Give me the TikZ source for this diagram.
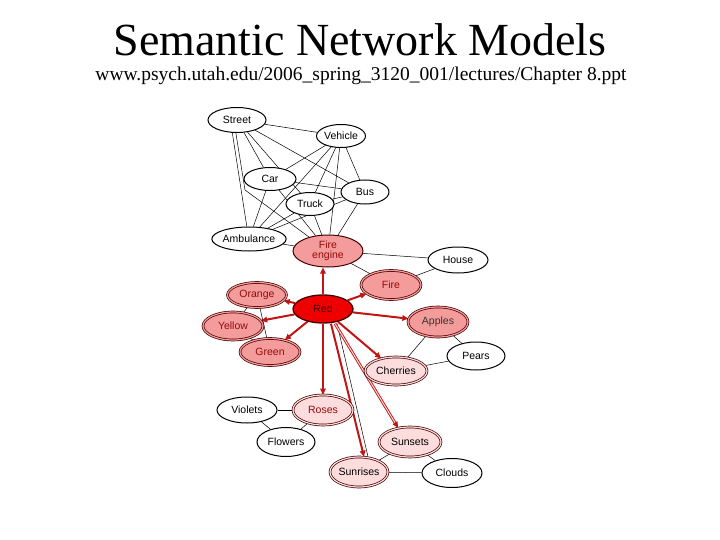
\documentclass[tikz,border=0pt]{standalone}
\usepackage{fontspec}
\setmainfont{Liberation Serif}
\setsansfont{Liberation Sans}
\usetikzlibrary{shapes.geometric,arrows.meta,backgrounds}
\definecolor{salmon}{RGB}{244,156,156}
\definecolor{pinkl}{RGB}{252,220,220}
\definecolor{redn}{RGB}{238,0,0}
\definecolor{arr}{RGB}{195,20,20}
\definecolor{edge}{RGB}{70,0,0}
\definecolor{txtr}{RGB}{150,10,10}
\tikzset{
  nd/.style={ellipse, draw=black, line width=1pt, fill=white, inner sep=0pt,
     font=\sffamily\fontsize{10.5}{10.5}\selectfont, align=center},
  wh/.style 2 args={minimum width=#1pt, minimum height=#2pt},
  sal/.style={nd, fill=salmon, draw=edge, text=txtr},
  pk/.style={nd, fill=pinkl, draw=edge},
  ring/.style={double=#1, double distance=1.2pt, line width=0.7pt},
  conn/.style={draw=black, line width=0.5pt},
  arrw/.style={draw=arr, line width=2pt, -{Triangle[length=6pt,width=5.5pt]}},
}
\begin{document}
\begin{tikzpicture}[x=1pt,y=-1pt]
\useasboundingbox (0,0) rectangle (720,540);
% titles
\node (title) at (360,40) {\fontsize{46}{50}\selectfont Semantic Network Models};
\node (sub) at (361,76) {\fontsize{19.5}{22}\selectfont www.psych.utah.edu/2006\_spring\_3120\_001/lectures/Chapter 8.ppt};
% nodes
\node[nd, wh={58}{25}] (street) at (237,120) {Street};
\node[nd, wh={49}{23}] (vehicle) at (341,136) {Vehicle};
\node[nd, wh={52}{23}] (car) at (270,179) {Car};
\node[nd, wh={48}{24}] (bus) at (365,192) {Bus};
\node[nd, wh={48}{23}] (truck) at (310,204) {Truck};
\node[nd, wh={70}{24}] (amb) at (249,239) {Ambulance};
\node[sal, wh={70}{32}] (fe) at (328,251) {Fire\\[-1pt]engine};
\node[sal, ring=salmon, wh={60}{29}] (fire) at (391,285) {Fire};
\node[nd, wh={60}{26}] (house) at (458,260) {House};
\node[nd, fill=redn, draw=edge, line width=1.3pt, text=edge, wh={60}{28}] (red) at (323,309) {Red};
\node[sal, ring=salmon, wh={59}{25}] (orange) at (257,295) {Orange};
\node[sal, ring=salmon, wh={60}{28}] (yellow) at (233,326) {Yellow};
\node[sal, ring=salmon, wh={60}{27}] (green) at (270,352) {Green};
\node[sal, ring=salmon, text=black!80, wh={60}{30}] (apples) at (438,322) {Apples};
\node[nd, wh={58}{28}] (pears) at (476,356) {Pears};
\node[pk, ring=pinkl, wh={62}{28}] (cherries) at (396,371) {Cherries};
\node[nd, wh={60}{26}] (violets) at (247,410) {Violets};
\node[pk, ring=pinkl, text=txtr, wh={60}{30}] (roses) at (323,410) {Roses};
\node[nd, wh={58}{29}] (flowers) at (286,442) {Flowers};
\node[pk, ring=pinkl, wh={58}{30}] (sunrises) at (359,472) {Sunrises};
\node[pk, ring=pinkl, wh={62}{30}] (sunsets) at (410,442) {Sunsets};
\node[nd, wh={60}{29}] (clouds) at (452,473) {Clouds};
\begin{scope}[on background layer]
% vehicle cluster
\draw[conn] (street) -- (vehicle);
\draw[conn] (street) -- (car);
\draw[conn] (street) -- (truck);
\draw[conn] (street) -- (bus);
\draw[conn] (street.-110) -- (amb.100);
\draw[conn] (street.-95) -- (245,190) -- (fe);
\draw[conn] (vehicle) -- (car);
\draw[conn] (vehicle) -- (truck);
\draw[conn] (vehicle) -- (bus);
\draw[conn] (vehicle) -- (amb);
\draw[conn] (vehicle) -- (fe);
\draw[conn] (car) -- (bus);
\draw[conn] (car) -- (amb);
\draw[conn] (car) -- (fe);
\draw[conn] (truck) -- (bus);
\draw[conn] (truck) -- (amb);
\draw[conn] (truck) -- (fe);
\draw[conn] (bus) -- (amb);
\draw[conn] (bus) -- (fe);
\draw[conn] (amb) -- (fe);
\draw[conn] (fe) -- (house);
\draw[conn] (fe) -- (fire);
\draw[conn] (fire) -- (house);
% colours
\draw[conn] (orange) -- (yellow);
\draw[conn] (orange) -- (green);
\draw[conn] (yellow) -- (green);
% fruit
\draw[conn] (apples) -- (pears);
\draw[conn] (apples) -- (cherries);
\draw[conn] (cherries) -- (pears);
% flowers
\draw[conn] (violets) -- (roses);
\draw[conn] (violets) -- (flowers);
\draw[conn] (roses) -- (flowers);
% sky
\draw[conn] (sunsets) -- (sunrises);
\draw[conn] (sunsets) -- (clouds);
\draw[conn] (sunrises) -- (clouds);
\draw[conn] ([xshift=14pt]red.south) -- ([xshift=9pt]sunrises.north);
% red arrows
\draw[arrw] (red.north) -- ([xshift=-5pt]fe.south);
\draw[arrw] (red) -- (orange);
\draw[arrw] (red) -- (yellow);
\draw[arrw] (red) -- (green);
\draw[arrw] (red) -- (fire);
\draw[arrw] (red) -- (apples);
\draw[arrw] (red) -- (cherries);
\draw[arrw] (red.south) -- (roses.north);
\draw[arrw, line width=0.9pt, double=pinkl, double distance=1pt] ([xshift=12pt]red.south) -- (sunsets.130);
\draw[arrw] ([xshift=8pt]red.south) -- ([xshift=5pt]sunrises.north);
\end{scope}
\end{tikzpicture}
\end{document}
